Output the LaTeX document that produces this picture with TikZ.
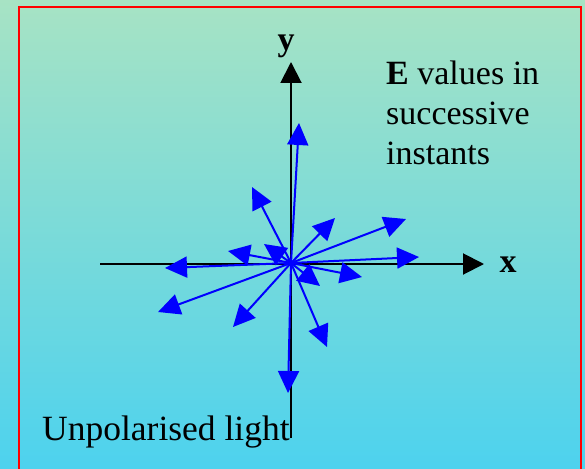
\documentclass[tikz,border=0pt]{standalone}
\usepackage{fontspec}
\setmainfont{Liberation Serif}
\usetikzlibrary{arrows.meta}
\definecolor{slidetop}{HTML}{A7E3C4}
\definecolor{slidebottom}{HTML}{4DD2EE}
\definecolor{evector}{HTML}{0000FF}
\definecolor{frame}{HTML}{FF0000}

\begin{document}
\begin{tikzpicture}[
    x=1pt, y=-1pt,
    every node/.style={font=\fontsize{34}{40}\selectfont, inner sep=0pt},
    axisline/.style={line width=2pt, -{Triangle[length=21pt, width=21pt]}, color=black},
    evec/.style={line width=2pt, -{Triangle[length=22pt, width=21pt]}, color=evector},
    axislabel/.style={font=\fontsize{34}{40}\selectfont\bfseries}
]
\useasboundingbox (0,0) rectangle (585,468);
\clip (0,0) rectangle (585,468);

% slide background and frame
\shade[top color=slidetop, bottom color=slidebottom] (0,0) rectangle (585,468);
\draw[frame, line width=2pt] (18.5,7.5) rectangle (581,480);

% axes
\coordinate (O) at (291,263);
\coordinate (xl) at (100,264);
\coordinate (xr) at (484,264);
\coordinate (yb) at (291,438);
\coordinate (yt) at (291,62);

\draw[axisline] (xl) -- (xr);
\draw[axisline] (yb) -- (yt);

\node[axislabel, anchor=base] (ylab) at (286,51) {y};
\node[axislabel, anchor=base] (xlab) at (508,272) {x};

% E vectors at successive instants
\coordinate (e1) at (299,123);
\coordinate (e2) at (252,187);
\coordinate (e3) at (335,218);
\coordinate (e4) at (406,219);
\coordinate (e5) at (419,257);
\coordinate (e6) at (362,277);
\coordinate (e7) at (320,286);
\coordinate (e8) at (327,347);
\coordinate (e9) at (288,393);
\coordinate (e10) at (233,327);
\coordinate (e11) at (158,312);
\coordinate (e12) at (165,268);
\coordinate (e13) at (228,251);
\coordinate (e14) at (264,244);

\draw[evec] (O) -- (e1);
\draw[evec] (O) -- (e2);
\draw[evec] (O) -- (e3);
\draw[evec] (O) -- (e4);
\draw[evec] (O) -- (e5);
\draw[evec] (O) -- (e6);
\draw[evec] (O) -- (e7);
\draw[evec] (O) -- (e8);
\draw[evec] (O) -- (e9);
\draw[evec] (O) -- (e10);
\draw[evec] (O) -- (e11);
\draw[evec] (O) -- (e12);
\draw[evec] (O) -- (e13);
\draw[evec] (O) -- (e14);

% texts
\node[anchor=north west, align=left] (note) at (386,61) {\textbf{E} values in\\successive\\instants};
\node[anchor=base west, font=\fontsize{35.5}{40}\selectfont] (caption) at (42,440) {Unpolarised light};

\end{tikzpicture}
\end{document}
